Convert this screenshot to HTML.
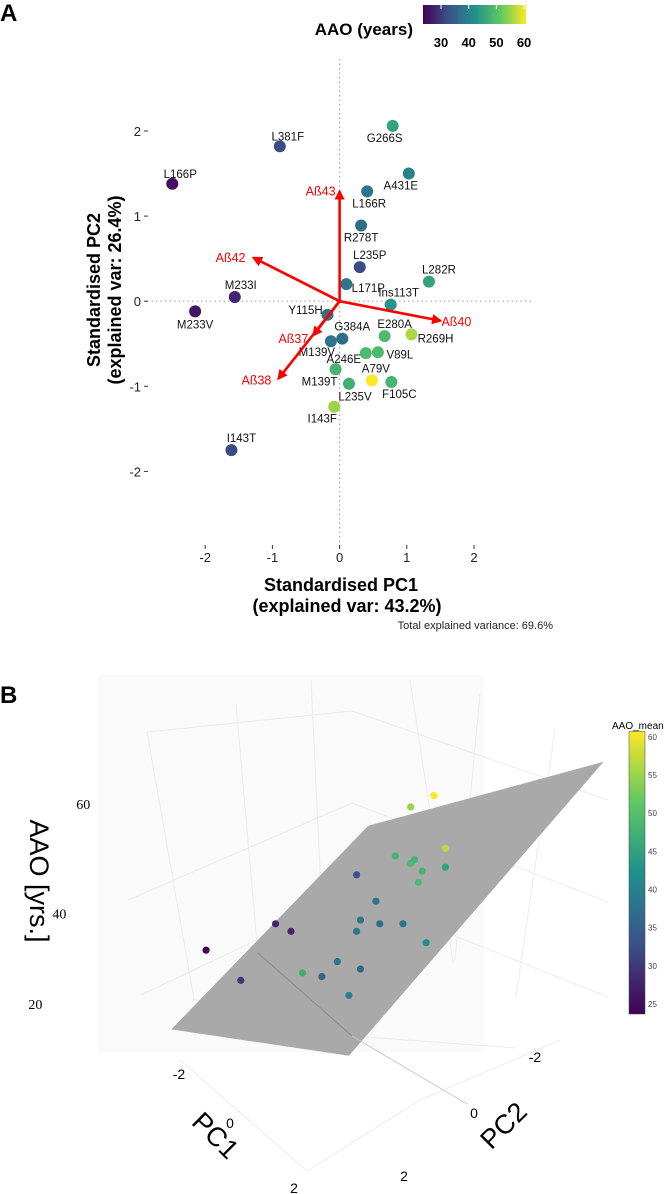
<!DOCTYPE html>
<html><head><meta charset="utf-8"><style>
html,body{margin:0;padding:0;background:#fff;}
svg{display:block;font-family:"Liberation Sans",sans-serif;}
</style></head><body>
<svg id="chart" width="669" height="1194" viewBox="0 0 669 1194" xmlns="http://www.w3.org/2000/svg">
<defs>
<linearGradient id="vir" x1="0" x2="1" y1="0" y2="0">
<stop offset="0" stop-color="#440154"/><stop offset="0.25" stop-color="#3b528b"/><stop offset="0.5" stop-color="#21908c"/><stop offset="0.75" stop-color="#5dc863"/><stop offset="1" stop-color="#fde725"/>
</linearGradient>
<linearGradient id="virV" x1="0" x2="0" y1="1" y2="0">
<stop offset="0" stop-color="#440154"/><stop offset="0.25" stop-color="#3b528b"/><stop offset="0.5" stop-color="#21908c"/><stop offset="0.75" stop-color="#5dc863"/><stop offset="1" stop-color="#fde725"/>
</linearGradient>
<marker id="arr" viewBox="0 0 10 10" refX="8" refY="5" markerWidth="4" markerHeight="4" orient="auto"><path d="M0,0 L10,5 L0,10 z" fill="#ff0000"/></marker>
</defs>
<g id="panelA"></g>
<g id="panelB"></g>
</svg>
<script>
// ---------- Panel A data ----------
const mutations = ["L166P","L381F","G266S","A431E","L166R","R278T","L235P","L171P","L282R","Ins113T","M233I","M233V","Y115H","G384A","M139V","E280A","R269H","A246E","V89L","M139T","A79V","L235V","F105C","I143F","I143T"];
const pc1 = [-2.49,-0.89,0.79,1.03,0.41,0.32,0.30,0.10,1.33,0.76,-1.56,-2.15,-0.18,0.04,-0.13,0.67,1.07,0.39,0.57,-0.06,0.48,0.14,0.77,-0.08,-1.61];
const pc2 = [1.38,1.82,2.06,1.50,1.29,0.89,0.40,0.20,0.23,-0.04,0.05,-0.12,-0.16,-0.44,-0.47,-0.41,-0.39,-0.61,-0.60,-0.80,-0.93,-0.97,-0.95,-1.24,-1.75];
const aao = [25,32,45,40,38,37,32,38,45,43,28,26,38,37,38,49,56,49,49,48,61,47,48,55,32];
const loadingNames = ["Aß43","Aß42","Aß40","Aß37","Aß38"];
const loadX = [0,-1.28,1.50,-0.39,-0.91];
const loadY = [1.29,0.51,-0.23,-0.40,-0.91];
const xTicks = [-2,-1,0,1,2];
const yTicks = [-2,-1,0,1,2];
const legendTicks = [30,40,50,60];

// ---------- Panel B data (projected view coordinates) ----------
const bViewX = [0.28,0.37,0.46,0.50,0.67,0.72,0.68,0.67,0.73,0.79,0.85,0.62,0.68,0.58,0.53,0.65,0.77,0.82,0.81,0.84,0.83,0.90,0.90,0.81,0.87];
const bViewY = [0.73,0.81,0.66,0.68,0.53,0.60,0.65,0.68,0.66,0.66,0.71,0.76,0.78,0.80,0.79,0.85,0.48,0.49,0.50,0.52,0.55,0.51,0.46,0.35,0.32];
const bAAO = [24,30,28,28,33,38,38,38,37,38,42,38,36,36,47,40,48,48,49,48,49,45,57,55,61];
const planeX = [0.19,0.70,1.31,0.65];
const planeY = [0.94,0.40,0.23,1.01];
const bZTicks = [20,40,60];
const bZTickY = [0.87,0.63,0.34];
const bBarTicks = [25,30,35,40,45,50,55,60];

const NS="http://www.w3.org/2000/svg";
function mk(tag,attrs,parent,text){const e=document.createElementNS(NS,tag);for(const k in attrs)e.setAttribute(k,attrs[k]);if(text!==undefined)e.textContent=text;parent.appendChild(e);return e;}
const stops=[[0,[68,1,84]],[0.25,[59,82,139]],[0.5,[33,144,140]],[0.75,[93,200,99]],[1,[253,231,37]]];
function viridis(t){t=Math.max(0,Math.min(1,t));for(let i=0;i<stops.length-1;i++){const a=stops[i],b=stops[i+1];if(t<=b[0]){const f=(t-a[0])/(b[0]-a[0]);const c=a[1].map((v,j)=>Math.round(v+(b[1][j]-v)*f));return `rgb(${c[0]},${c[1]},${c[2]})`;}}return "rgb(253,231,37)";}

// ---------- Panel A ----------
const A=document.getElementById('panelA');
const ox=339.6, oy=301.2, ux=67.2, uy=85.1;
const sx=v=>ox+v*ux, sy=v=>oy-v*uy;
const cA=v=>viridis((v-23.5)/(60.7-23.5));
let t;
t=mk('text',{x:0,y:21,'font-size':24,'font-weight':'bold'},A,'A');


t=mk('line',{x1:sx(0),x2:sx(0),y1:59,y2:547,stroke:'#aaa','stroke-dasharray':'1.5,3','stroke-width':1.2},A);


t=mk('line',{x1:147,x2:531,y1:sy(0),y2:sy(0),stroke:'#aaa','stroke-dasharray':'1.5,3','stroke-width':1.2},A);


xTicks.forEach(v=>{
  t=mk('line',{x1:sx(v),x2:sx(v),y1:545,y2:549,stroke:'#333'},A);
  
  
  t=mk('text',{x:sx(v),y:562,'font-size':13,'text-anchor':'middle',fill:'#222'},A,String(v));
  
  
});
yTicks.forEach(v=>{
  t=mk('line',{x1:144,x2:148,y1:sy(v),y2:sy(v),stroke:'#333'},A);
  
  
  t=mk('text',{x:141,y:sy(v)+5,'font-size':13,'text-anchor':'end',fill:'#222'},A,String(v));
  
  
});
t=mk('text',{x:341,y:591,'font-size':18,'font-weight':'bold','text-anchor':'middle'},A,'Standardised PC1');


t=mk('text',{x:347,y:612,'font-size':18,'font-weight':'bold','text-anchor':'middle'},A,'(explained var: 43.2%)');


t=mk('text',{x:0,y:0,'font-size':18,'font-weight':'bold','text-anchor':'middle',transform:'translate(100,290) rotate(-90)'},A,'Standardised PC2');


t=mk('text',{x:0,y:0,'font-size':18,'font-weight':'bold','text-anchor':'middle',transform:'translate(121,290) rotate(-90)'},A,'(explained var: 26.4%)');


t=mk('text',{x:553,y:629,'font-size':11,'text-anchor':'end',fill:'#222'},A,'Total explained variance: 69.6%');


mutations.forEach((m,i)=>{
  t=mk('circle',{cx:sx(pc1[i]),cy:sy(pc2[i]),r:6,fill:cA(aao[i])},A);
  
  
});
const lblDx=[8,8,-8,-8,2,0,10,22,10,8,6,0,-22,10,-14,10,24,-22,22,-16,4,6,8,-12,10];
const lblDy=[-10,-10,12,12,12,12,-12,4,-12,-12,-12,13,-5,-12,11,-12,4,6,2,12,-12,13,12,12,-12];
mutations.forEach((m,i)=>{
  t=mk('text',{x:sx(pc1[i])+lblDx[i],y:sy(pc2[i])+lblDy[i]+4,'font-size':11.5,'text-anchor':'middle',fill:'#111'},A,m);
  
  
});
const arrDx=[-19,-23,16,-20,-22], arrDy=[0,0,1,4,2];
loadingNames.forEach((n,i)=>{
  t=mk('line',{x1:sx(0),y1:sy(0),x2:sx(loadX[i]),y2:sy(loadY[i]),stroke:'#ff0000','stroke-width':2.6,'marker-end':'url(#arr)'},A);
  
  
  t=mk('text',{x:sx(loadX[i])+arrDx[i],y:sy(loadY[i])+arrDy[i]+4,'font-size':12.5,'text-anchor':'middle',fill:'#ff0000'},A,n);
  
  
});
t=mk('text',{x:413,y:35,'font-size':17,'font-weight':'bold','text-anchor':'end'},A,'AAO (years)');


t=mk('rect',{x:423,y:5,width:103,height:19,fill:'url(#vir)'},A);


const lgx=v=>423+(v-23.5)/(60.7-23.5)*103;
legendTicks.forEach(v=>{
  t=mk('line',{x1:lgx(v),x2:lgx(v),y1:5,y2:9,stroke:'#fff'},A);
  
  
  t=mk('text',{x:lgx(v),y:47,'font-size':13,'font-weight':'bold','text-anchor':'middle'},A,String(v));
  
  
});

// ---------- Panel B ----------
const B=document.getElementById('panelB');
const bx0=98, bw=386, by0=675, bh=377;
const bsx=v=>bx0+v*bw, bsy=v=>by0+v*bh;
const cB=v=>viridis((v-23.7)/(60.7-23.7));
t=mk('text',{x:0,y:703,'font-size':24,'font-weight':'bold'},B,'B');


t=mk('rect',{x:bx0,y:by0,width:bw,height:bh,fill:'#fafafa'},B);


const grid=[[147,732,194,999],[236,704,262,1000],[311,680,324,953],[410,680,453,963],[480,694,455,960],[555,730,516,997],
[147,732,352,711],[352,711,608,800],[128,900,352,803],[352,803,608,902],[141,995,352,895],[352,895,608,997],
[192,999,352,1036],[352,1036,516,1048],[180,1060,307,1171],[307,1171,420,1100],[560,1040,420,1100]];
grid.forEach(g=>{
  t=mk('line',{x1:g[0],y1:g[1],x2:g[2],y2:g[3],stroke:'#ececec','stroke-width':1},B);
  
  
});
t=mk('polygon',{points:planeX.map((v,i)=>bsx(v)+','+bsy(planeY[i])).join(' '),fill:'#a9a9a9'},B);


t=mk('line',{x1:258,y1:953,x2:352,y2:1036,stroke:'#8a8a8a','stroke-width':1},B);


t=mk('line',{x1:352,y1:1036,x2:467,y2:1104,stroke:'#c8c8c8','stroke-width':1},B);


bAAO.forEach((v,i)=>{
  t=mk('circle',{cx:bsx(bViewX[i]),cy:bsy(bViewY[i]),r:3.6,fill:cB(v)},B);
  
  
});
bZTicks.forEach((v,i)=>{
  t=mk('text',{x:bsx(-0.02-(2-i)*0.062),y:bsy(bZTickY[i])+6,'font-size':14,'text-anchor':'end','font-family':'Liberation Serif, serif'},B,String(v));
  
  
});
t=mk('text',{x:0,y:0,'font-size':27,'text-anchor':'middle',transform:'translate(30,881) rotate(90)'},B,'AAO [yrs.]');


t=mk('text',{x:0,y:0,'font-size':27,'text-anchor':'middle',transform:'translate(209,1142) rotate(45)'},B,'PC1');


t=mk('text',{x:0,y:0,'font-size':27,'text-anchor':'middle',transform:'translate(510,1132) rotate(-45)'},B,'PC2');


[["-2",179,1074],["0",230,1123],["2",294,1188],["2",404,1176],["0",474,1113],["-2",535,1057]].forEach(d=>{
  t=mk('text',{x:d[1],y:d[2]+5,'font-size':14,'text-anchor':'middle'},B,d[0]);
  
  
});
t=mk('text',{x:612,y:729,'font-size':10},B,'AAO_mean');


t=mk('rect',{x:629,y:731.5,width:16,height:282.5,fill:'url(#virV)',stroke:'#444','stroke-width':0.5},B);


const cby=v=>1014-(v-23.7)/(60.7-23.7)*282.5;
bBarTicks.forEach(v=>{
  t=mk('text',{x:648,y:cby(v)+3,'font-size':8,fill:'#444'},B,String(v));
  
  
});
</script>
</body></html>
